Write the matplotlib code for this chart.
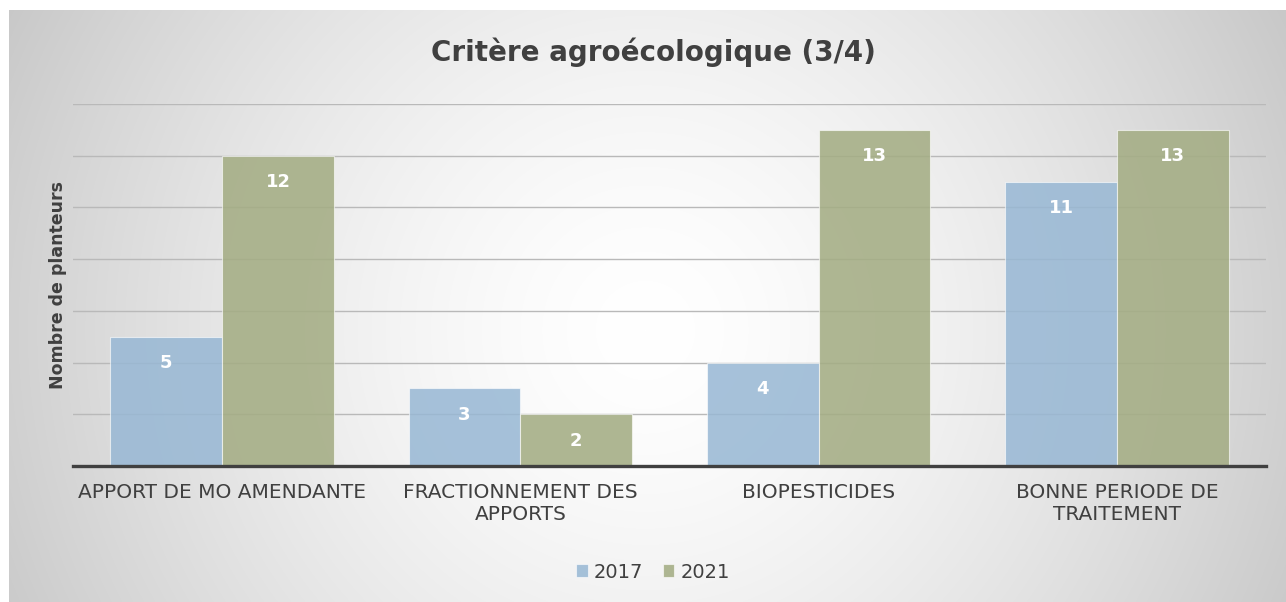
import numpy as np
import matplotlib
matplotlib.use('Agg')
import matplotlib.pyplot as plt

categories = ['APPORT DE MO AMENDANTE', 'FRACTIONNEMENT DES\nAPPORTS',
              'BIOPESTICIDES', 'BONNE PERIODE DE\nTRAITEMENT']
series_names = ['2017', '2021']
values_2017 = [5, 3, 4, 11]
values_2021 = [12, 2, 13, 13]

W, H = 1286, 602
text_col = '#404040'
blue = (0x97 / 255, 0xb7 / 255, 0xd4 / 255, 0.85)
green = (0xa4 / 255, 0xad / 255, 0x84 / 255, 0.88)

plt.rcParams['font.family'] = ['DejaVu Sans']

fig = plt.figure(figsize=(W / 100, H / 100), dpi=100, facecolor='white')

# grey radial shading behind the chart
bx0, by0 = 9, 10
bg = fig.add_axes([bx0 / W, 0, (W - bx0) / W, (H - by0) / H], zorder=-5)
yy, xx = np.mgrid[by0:H, bx0:W]
d = np.hypot(xx - 645, yy - 330) / 704.0
shade = 1 - 0.21 * d ** 1.5
bg.imshow(np.dstack([shade, shade, shade]), aspect='auto',
          interpolation='nearest')
bg.axis('off')

ax = fig.add_axes([73 / W, (H - 466) / H, (1266 - 73) / W, (466 - 104) / H])
ax.patch.set_alpha(0)

x = np.arange(len(categories))
bw = 0.375
b1 = ax.bar(x - bw / 2, values_2017, bw, color=blue,
            edgecolor=(1, 1, 1, 0.6), linewidth=0.8, zorder=3, label=series_names[0])
b2 = ax.bar(x + bw / 2, values_2021, bw, color=green,
            edgecolor=(1, 1, 1, 0.6), linewidth=0.8, zorder=3, label=series_names[1])

for bars in (b1, b2):
    for rect in bars:
        h = rect.get_height()
        ax.annotate(f'{h:g}', (rect.get_x() + rect.get_width() / 2, h),
                    xytext=(0, -19), textcoords='offset points',
                    ha='center', va='center', color='white',
                    fontsize=13, fontweight='bold', zorder=4)

ax.set_xlim(-0.5, len(categories) - 0.5)
ax.set_ylim(0, 14)
ax.set_yticks(np.arange(2, 15, 2))
ax.yaxis.grid(True, color='#b9b9b9', linewidth=1.0, zorder=0)
ax.set_axisbelow(True)
ax.tick_params(axis='y', length=0, labelleft=False)
ax.set_xticks(x, categories)
ax.tick_params(axis='x', length=0, pad=12, labelsize=14.5, labelcolor=text_col)
for lab in ax.get_xticklabels():
    lab.set_linespacing(1.2)
for s in ('top', 'right', 'left'):
    ax.spines[s].set_visible(False)
ax.spines['bottom'].set_color(text_col)
ax.spines['bottom'].set_linewidth(2.4)
ax.spines['bottom'].set_zorder(5)

ax.set_ylabel('Nombre de planteurs', fontsize=12.5, fontweight='bold',
              color=text_col, labelpad=4)

fig.text(653 / W, 1 - 52 / H, 'Critère agroécologique (3/4)', ha='center',
         va='center', fontsize=20, fontweight='bold', color=text_col)

fig.legend(handles=[b1, b2], labels=series_names, loc='center',
           bbox_to_anchor=(653 / W, 1 - 572 / H), ncol=2, frameon=False,
           fontsize=14, labelcolor=text_col, handlelength=0.6,
           handleheight=0.6, handletextpad=0.3, columnspacing=1.0)

fig.savefig('out.png', dpi=100, facecolor='white')
